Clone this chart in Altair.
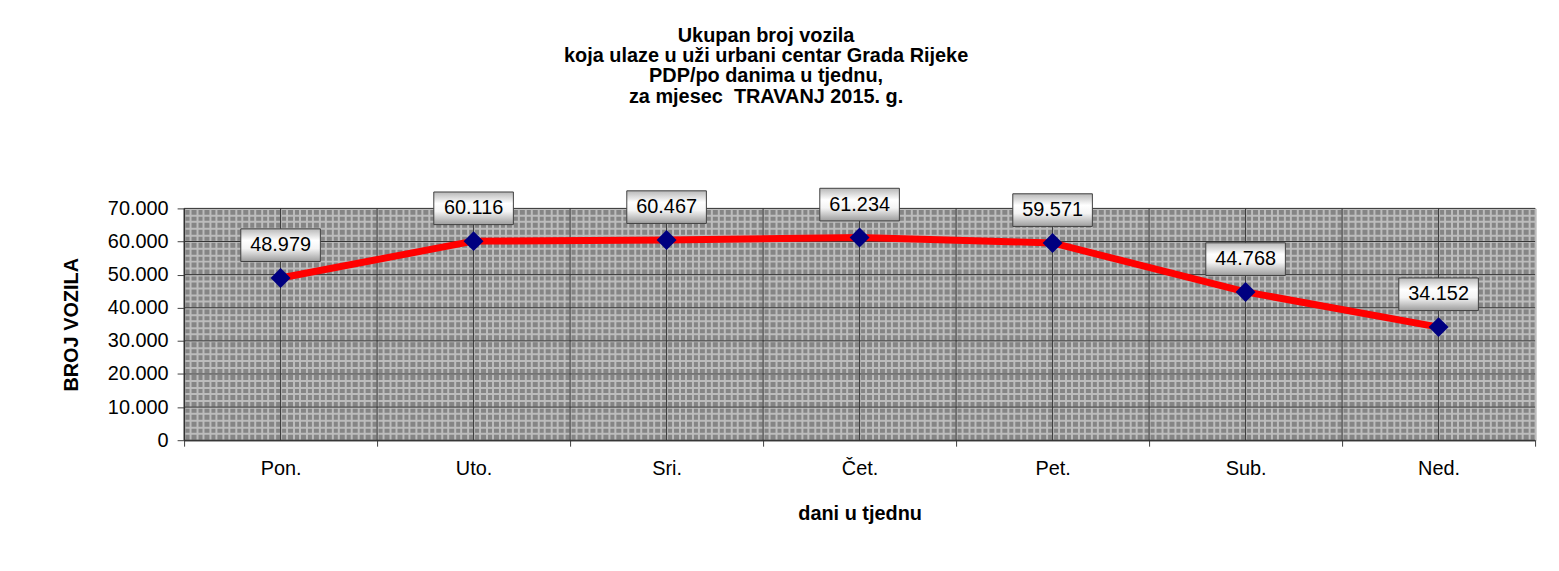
import altair as alt
import pandas as pd

# ---- data ----
days = ["Pon.", "Uto.", "Sri.", "Čet.", "Pet.", "Sub.", "Ned."]
vehicles = [48979, 60116, 60467, 61234, 59571, 44768, 34152]
y_ticks = [0, 10000, 20000, 30000, 40000, 50000, 60000, 70000]
title_lines = [
    "Ukupan broj vozila",
    "koja ulaze u uži urbani centar Grada Rijeke",
    "PDP/po danima u tjednu,",
    "za mjesec\u00a0 TRAVANJ 2015. g.",
]
y_title = "BROJ VOZILA"
x_title = "dani u tjednu"

FONT = "Liberation Sans"

df = pd.DataFrame({"dan": days, "vozila": vehicles})
ticks_df = pd.DataFrame({"v": y_ticks})

# ---- background fine-pattern (styling only) ----
fine_x_vals = [k / 30 for k in range(0, 7 * 30 + 1)]
fine_y_vals = list(range(0, 70001, 2000))
fine_df = pd.DataFrame({"fx": [0, 7], "fy": [0, 70000]})

fine = alt.Chart(fine_df).mark_point(opacity=0).encode(
    x=alt.X("fx:Q", scale=alt.Scale(domain=[0, 7], nice=False, zero=False),
            axis=alt.Axis(orient="top", values=fine_x_vals, grid=True,
                          gridColor="#bcbcbc", gridWidth=2, gridOpacity=1,
                          labels=False, ticks=False, domain=False, title=None)),
    y=alt.Y("fy:Q", scale=alt.Scale(domain=[0, 70000], nice=False),
            axis=alt.Axis(orient="right", values=fine_y_vals, grid=True,
                          gridColor="#bcbcbc", gridWidth=2, gridOpacity=1,
                          labels=False, ticks=False, domain=False, title=None)),
)

x_scale = alt.Scale(domain=days, paddingInner=0, paddingOuter=0)
y_scale = alt.Scale(domain=[0, 70000], nice=False)

x_axis = alt.Axis(
    orient="bottom", tickBand="extent", ticks=True, tickSize=6, tickColor="#404040",
    domainColor="#202020", labelAngle=0, labelFontSize=20, labelFont=FONT,
    labelColor="black", labelPadding=12, grid=False,
    title=x_title, titleFontSize=20, titleFont=FONT, titleFontWeight="bold",
    titleColor="black", titlePadding=26,
)
y_axis = alt.Axis(
    orient="left", values=y_ticks,
    labelExpr="replace(format(datum.value, ','), ',', '.')",
    grid=False, tickSize=7, tickColor="#404040", domainColor="#202020",
    labelFontSize=20, labelFont=FONT, labelColor="black", labelPadding=9,
    title=y_title, titleFontSize=20, titleFont=FONT, titleFontWeight="bold",
    titleColor="black", titlePadding=26,
)

X = alt.X("dan:N", scale=x_scale, sort=days, axis=x_axis)
Y = alt.Y("vozila:Q", scale=y_scale, axis=y_axis)

hrules = alt.Chart(ticks_df).mark_rule(color="#333333", strokeWidth=1).encode(
    y=alt.Y("v:Q", scale=y_scale, axis=y_axis)
)
vrules_c = alt.Chart(df).mark_rule(color="#333333", strokeWidth=1).encode(
    x=alt.X("dan:N", scale=x_scale, sort=days, axis=x_axis)
)
vrules_b = alt.Chart(df).mark_rule(color="#333333", strokeWidth=1).encode(
    x=alt.X("dan:N", scale=x_scale, sort=days, axis=x_axis, bandPosition=0)
)

line = alt.Chart(df).mark_line(color="#ff0000", strokeWidth=7).encode(x=X, y=Y)
points = alt.Chart(df).mark_point(
    shape="diamond", size=400, filled=True, color="#000080", opacity=1
).encode(x=X, y=Y)

box_grad = alt.Gradient(
    gradient="linear", x1=0, x2=0, y1=0, y2=1,
    stops=[
        alt.GradientStop(color="#b8b8b8", offset=0),
        alt.GradientStop(color="#ffffff", offset=0.35),
        alt.GradientStop(color="#f4f4f4", offset=0.6),
        alt.GradientStop(color="#9c9c9c", offset=1),
    ],
)
boxes = alt.Chart(df).mark_point(
    shape="M-1,-0.41L1,-0.41L1,0.41L-1,0.41Z", size=6400, filled=True,
    fill=box_grad, stroke="#404040", strokeWidth=1, opacity=1, yOffset=-33,
).encode(x=X, y=Y)

labels = alt.Chart(df).transform_calculate(
    lbl="replace(format(datum.vozila, ','), ',', '.')"
).mark_text(
    dy=-33, fontSize=20, font=FONT, color="black", baseline="middle", align="center"
).encode(x=X, y=Y, text="lbl:N")

main = alt.layer(hrules, vrules_c, vrules_b, line, points, boxes, labels)

chart = alt.layer(fine, main).resolve_scale(
    x="independent", y="independent"
).properties(
    width=1358,
    height=233,
    autosize=alt.AutoSizeParams(type="none"),
    padding={"left": 177, "top": 200, "right": 16, "bottom": 122},
    title=alt.TitleParams(
        text=title_lines, fontSize=20, font=FONT, fontWeight="bold",
        color="black", anchor="middle", dx=-94, offset=80, lineHeight=20.5,
    ),
).configure(
    font=FONT
).configure_view(
    fill="#858585", stroke="#303030", strokeWidth=1
)

chart.save("out.html", embed_options={"renderer": "svg", "actions": False})
